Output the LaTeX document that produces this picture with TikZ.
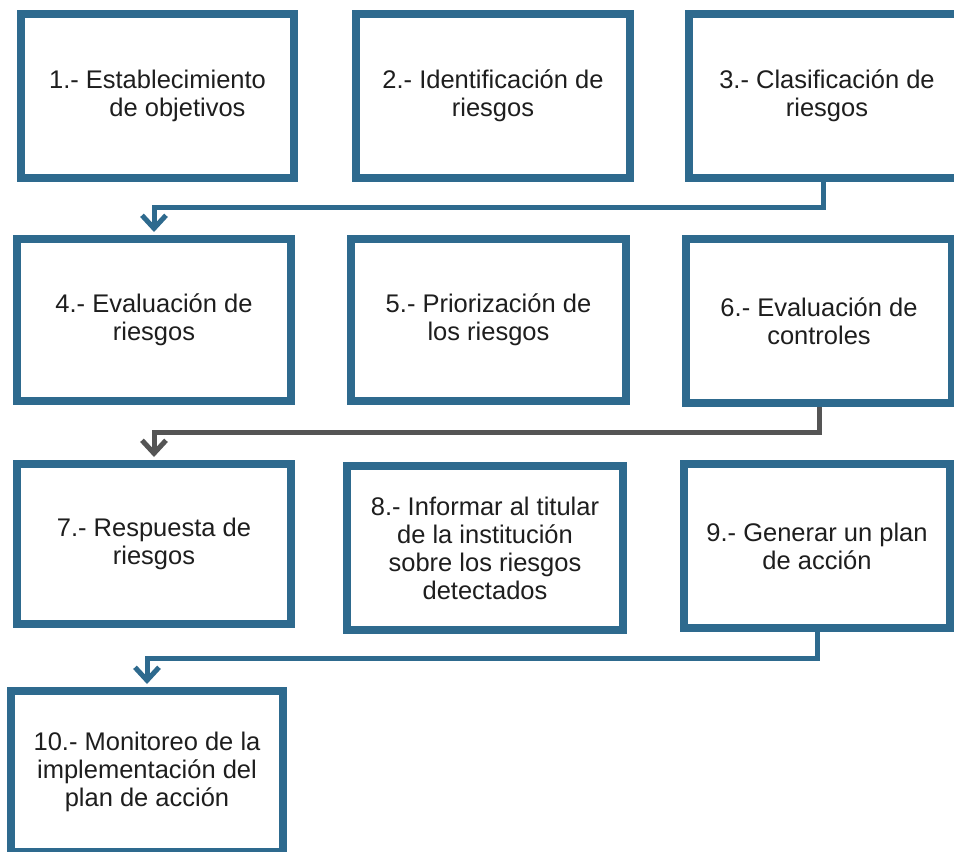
\documentclass[tikz,border=0pt]{standalone}
\usepackage{fontspec}
\setmainfont{Liberation Sans}
\usetikzlibrary{arrows.meta}
\definecolor{boxblue}{HTML}{2E6A8E}
\definecolor{txt}{HTML}{1E1E1E}
\definecolor{graylink}{HTML}{555555}
\begin{document}
\begin{tikzpicture}[x=1pt,y=-1pt,
  stepbox/.style={draw=boxblue,line width=8pt,fill=white,rectangle,align=center,
    text=txt,font=\fontsize{25.5}{28}\selectfont,inner sep=0pt},
  link/.style={draw=boxblue,line width=5pt,-{Straight Barb[length=13pt,width=24pt,line width=5pt]},shorten >=3pt}
]
\useasboundingbox (0,0) rectangle (954,852);
\begin{scope}
\clip (0,0) rectangle (954,852);
\node[stepbox,minimum width=273pt,minimum height=164pt] (b1) at (157.5,96) {1.- Establecimiento\\\hspace*{40pt}de objetivos};
\node[stepbox,minimum width=274pt,minimum height=164pt] (b2) at (493,96) {2.- Identificación de\\riesgos};
\node[stepbox,minimum width=276pt,minimum height=164pt] (b3) at (827,96) {3.- Clasificación de\\riesgos};
\node[stepbox,minimum width=274pt,minimum height=162pt] (b4) at (154,320) {4.- Evaluación de\\riesgos};
\node[stepbox,minimum width=275pt,minimum height=162pt] (b5) at (488.5,320) {5.- Priorización de\\los riesgos};
\node[stepbox,minimum width=266pt,minimum height=164pt] (b6) at (819,321) {6.- Evaluación de\\controles};
\node[stepbox,minimum width=274pt,minimum height=160pt] (b7) at (154,544) {7.- Respuesta de\\riesgos};
\node[stepbox,minimum width=276pt,minimum height=164pt] (b8) at (485,548) {8.- Informar al titular\\de la institución\\sobre los riesgos\\detectados};
\node[stepbox,minimum width=266pt,minimum height=164pt] (b9) at (817,546) {9.- Generar un plan\\de acción};
\node[stepbox,minimum width=272pt,minimum height=161pt] (b10) at (147,771.5) {10.- Monitoreo de la\\implementación del\\plan de acción};
\coordinate (m1) at (0,207);
\coordinate (m2) at (0,432);
\coordinate (m3) at (0,658);
\draw[link] ([xshift=-4pt]b3.south) -- ([xshift=-4pt]b3.south |- m1) -| (b4.north);
\draw[link,draw=graylink] (b6.south) -- (b6.south |- m2) -| (b7.north);
\draw[link] (b9.south) -- (b9.south |- m3) -| (b10.north);
\end{scope}
\end{tikzpicture}
\end{document}
